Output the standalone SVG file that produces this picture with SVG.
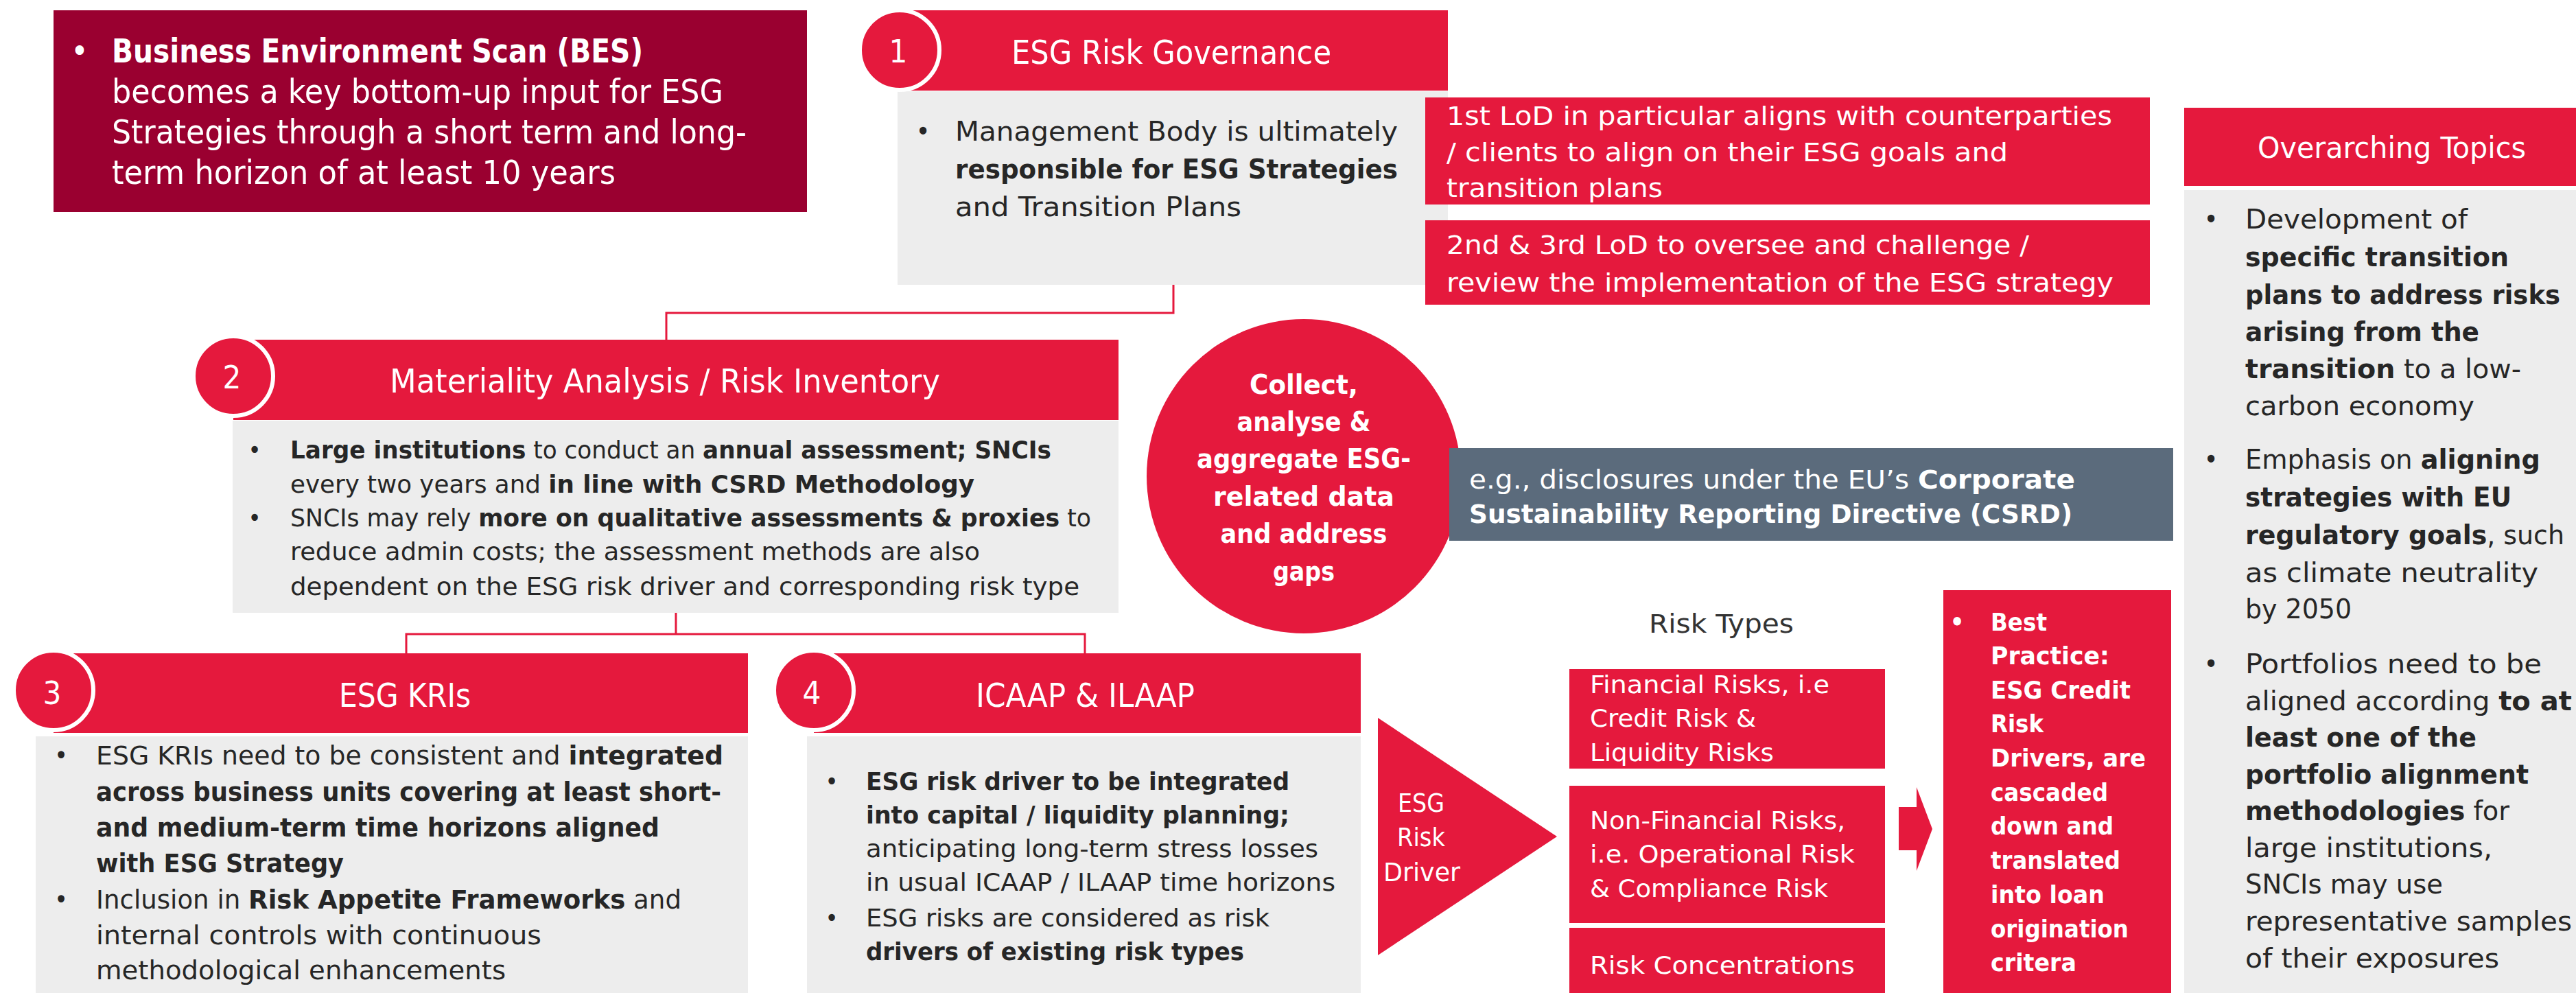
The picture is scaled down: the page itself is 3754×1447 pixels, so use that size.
<svg xmlns="http://www.w3.org/2000/svg" width="3754" height="1447" viewBox="0 0 3754 1447">
<style>
.red{fill:#E5193D}
.gray{fill:#EDEDED}
.bes{fill:#9A0030}
.slate{fill:#5B6B7C}
.num{fill:#E5193D;stroke:#fff;stroke-width:6}
.t{font-family:"DejaVu Sans Condensed","DejaVu Sans",sans-serif}
.w{fill:#fff}
.d{fill:#262626}
.b{font-weight:bold}
.c{text-anchor:middle}
.conn{fill:none;stroke:#E5193D;stroke-width:3}
</style>
<rect width="3754" height="1447" fill="#fff"/>

<g id="connectors">
<path class="conn" d="M1710 415 V456 H971 V495"/>
<path class="conn" d="M985 893 V924"/>
<path class="conn" d="M592 952 V924 H1581 V952"/>
</g>

<g id="bes">
<rect class="bes" x="78" y="15" width="1098" height="294"/>
<g class="t w" font-size="48">
<text x="116" y="91" class="c">•</text>
<text x="163" y="91" class="b" textLength="774" lengthAdjust="spacingAndGlyphs">Business Environment Scan (BES)</text>
<text x="163" y="150" textLength="891" lengthAdjust="spacingAndGlyphs">becomes a key bottom-up input for ESG</text>
<text x="163" y="209" textLength="925" lengthAdjust="spacingAndGlyphs">Strategies through a short term and long-</text>
<text x="163" y="268" textLength="734" lengthAdjust="spacingAndGlyphs">term horizon of at least 10 years</text>
</g>
</g>

<g id="node1">
<rect class="gray" x="1308" y="133" width="802" height="282"/>
<rect class="red" x="1311" y="15" width="799" height="117"/>
<circle class="num" cx="1311" cy="73" r="58"/>
<text x="1309" y="91" class="t w c" font-size="47">1</text>
<text x="1474" y="93" class="t w" font-size="48" textLength="466" lengthAdjust="spacingAndGlyphs">ESG Risk Governance</text>
<g class="t d" font-size="39">
<text x="1345" y="205" class="c">•</text>
<text x="1392" y="205" textLength="645" lengthAdjust="spacingAndGlyphs">Management Body is ultimately</text>
<text x="1392" y="260" class="b" textLength="645" lengthAdjust="spacingAndGlyphs">responsible for ESG Strategies</text>
<text x="1392" y="315" textLength="417" lengthAdjust="spacingAndGlyphs">and Transition Plans</text>
</g>
</g>

<g id="lod1">
<rect class="red" x="2077" y="142" width="1056" height="156"/>
<g class="t w" font-size="38">
<text x="2108" y="182" textLength="970" lengthAdjust="spacingAndGlyphs">1st LoD in particular aligns with counterparties</text>
<text x="2108" y="235" textLength="818" lengthAdjust="spacingAndGlyphs">/ clients to align on their ESG goals and</text>
<text x="2108" y="287" textLength="315" lengthAdjust="spacingAndGlyphs">transition plans</text>
</g>
</g>

<g id="lod23">
<rect class="red" x="2077" y="321" width="1056" height="123"/>
<g class="t w" font-size="38">
<text x="2108" y="370" textLength="849" lengthAdjust="spacingAndGlyphs">2nd &amp; 3rd LoD to oversee and challenge /</text>
<text x="2108" y="425" textLength="972" lengthAdjust="spacingAndGlyphs">review the implementation of the ESG strategy</text>
</g>
</g>

<g id="node2">
<rect class="gray" x="339" y="613" width="1291" height="280"/>
<rect class="red" x="340" y="495" width="1290" height="117"/>
<circle class="num" cx="340" cy="548" r="58"/>
<text x="338" y="566" class="t w c" font-size="47">2</text>
<text x="568" y="572" class="t w" font-size="48" textLength="802" lengthAdjust="spacingAndGlyphs">Materiality Analysis / Risk Inventory</text>
<g class="t d" font-size="36">
<text x="371" y="668" class="c">•</text>
<text x="423" y="668" textLength="1109" lengthAdjust="spacingAndGlyphs"><tspan class="b">Large institutions</tspan> to conduct an <tspan class="b">annual assessment; SNCIs</tspan></text>
<text x="423" y="718" textLength="997" lengthAdjust="spacingAndGlyphs">every two years and <tspan class="b">in line with CSRD Methodology</tspan></text>
<text x="371" y="767" class="c">•</text>
<text x="423" y="767" textLength="1167" lengthAdjust="spacingAndGlyphs">SNCIs may rely <tspan class="b">more on qualitative assessments &amp; proxies</tspan> to</text>
<text x="423" y="816" textLength="1005" lengthAdjust="spacingAndGlyphs">reduce admin costs; the assessment methods are also</text>
<text x="423" y="867" textLength="1150" lengthAdjust="spacingAndGlyphs">dependent on the ESG risk driver and corresponding risk type</text>
</g>
</g>

<g id="collect">
<circle class="red" cx="1900" cy="694" r="229"/>
<g class="t w b c" font-size="39">
<text x="1900" y="574" textLength="158" lengthAdjust="spacingAndGlyphs">Collect,</text>
<text x="1900" y="628" textLength="195" lengthAdjust="spacingAndGlyphs">analyse &amp;</text>
<text x="1900" y="682" textLength="312" lengthAdjust="spacingAndGlyphs">aggregate ESG-</text>
<text x="1900" y="737" textLength="264" lengthAdjust="spacingAndGlyphs">related data</text>
<text x="1900" y="791" textLength="243" lengthAdjust="spacingAndGlyphs">and address</text>
<text x="1900" y="846" textLength="90" lengthAdjust="spacingAndGlyphs">gaps</text>
</g>
</g>

<g id="csrd">
<rect class="slate" x="2112" y="653" width="1055" height="135"/>
<g class="t w" font-size="37">
<text x="2141" y="712" textLength="883" lengthAdjust="spacingAndGlyphs">e.g., disclosures under the EU’s <tspan class="b">Corporate</tspan></text>
<text x="2141" y="762" class="b" textLength="879" lengthAdjust="spacingAndGlyphs">Sustainability Reporting Directive (CSRD)</text>
</g>
</g>

<g id="node3">
<rect class="gray" x="52" y="1073" width="1038" height="374"/>
<rect class="red" x="78" y="952" width="1012" height="116"/>
<circle class="num" cx="78" cy="1006" r="58"/>
<text x="76" y="1026" class="t w c" font-size="47">3</text>
<text x="494" y="1030" class="t w" font-size="48" textLength="192" lengthAdjust="spacingAndGlyphs">ESG KRIs</text>
<g class="t d" font-size="37">
<text x="89" y="1114" class="c">•</text>
<text x="140" y="1114" textLength="914" lengthAdjust="spacingAndGlyphs">ESG KRIs need to be consistent and <tspan class="b">integrated</tspan></text>
<text x="140" y="1167" class="b" textLength="911" lengthAdjust="spacingAndGlyphs">across business units covering at least short-</text>
<text x="140" y="1219" class="b" textLength="821" lengthAdjust="spacingAndGlyphs">and medium-term time horizons aligned</text>
<text x="140" y="1271" class="b" textLength="361" lengthAdjust="spacingAndGlyphs">with ESG Strategy</text>
<text x="89" y="1324" class="c">•</text>
<text x="140" y="1324" textLength="853" lengthAdjust="spacingAndGlyphs">Inclusion in <tspan class="b">Risk Appetite Frameworks</tspan> and</text>
<text x="140" y="1376" textLength="649" lengthAdjust="spacingAndGlyphs">internal controls with continuous</text>
<text x="140" y="1427" textLength="597" lengthAdjust="spacingAndGlyphs">methodological enhancements</text>
</g>
</g>

<g id="node4">
<rect class="gray" x="1176" y="1073" width="807" height="374"/>
<rect class="red" x="1186" y="952" width="797" height="116"/>
<circle class="num" cx="1186" cy="1006" r="58"/>
<text x="1183" y="1026" class="t w c" font-size="47">4</text>
<text x="1422" y="1030" class="t w" font-size="48" textLength="319" lengthAdjust="spacingAndGlyphs">ICAAP &amp; ILAAP</text>
<g class="t d" font-size="36">
<text x="1212" y="1151" class="c">•</text>
<text x="1262" y="1151" class="b" textLength="617" lengthAdjust="spacingAndGlyphs">ESG risk driver to be integrated</text>
<text x="1262" y="1200" class="b" textLength="617" lengthAdjust="spacingAndGlyphs">into capital / liquidity planning;</text>
<text x="1262" y="1249" textLength="659" lengthAdjust="spacingAndGlyphs">anticipating long-term stress losses</text>
<text x="1262" y="1298" textLength="684" lengthAdjust="spacingAndGlyphs">in usual ICAAP / ILAAP time horizons</text>
<text x="1212" y="1350" class="c">•</text>
<text x="1262" y="1350" textLength="588" lengthAdjust="spacingAndGlyphs">ESG risks are considered as risk</text>
<text x="1262" y="1399" class="b" textLength="551" lengthAdjust="spacingAndGlyphs">drivers of existing risk types</text>
</g>
</g>

<g id="driver">
<polygon class="red" points="2008,1046 2269,1219 2008,1392"/>
<g class="t w c" font-size="38">
<text x="2071" y="1183" textLength="68" lengthAdjust="spacingAndGlyphs">ESG</text>
<text x="2071" y="1233" textLength="70" lengthAdjust="spacingAndGlyphs">Risk</text>
<text x="2072" y="1284" textLength="112" lengthAdjust="spacingAndGlyphs">Driver</text>
</g>
</g>

<g id="risktypes">
<text x="2403" y="922" class="t" fill="#333" font-size="37" textLength="211" lengthAdjust="spacingAndGlyphs">Risk Types</text>
</g>

<g id="financial">
<rect class="red" x="2287" y="975" width="460" height="145"/>
<g class="t w" font-size="36">
<text x="2317" y="1010" textLength="349" lengthAdjust="spacingAndGlyphs">Financial Risks, i.e</text>
<text x="2317" y="1059" textLength="242" lengthAdjust="spacingAndGlyphs">Credit Risk &amp;</text>
<text x="2317" y="1109" textLength="268" lengthAdjust="spacingAndGlyphs">Liquidity Risks</text>
</g>
</g>

<g id="nonfinancial">
<rect class="red" x="2287" y="1145" width="460" height="200"/>
<g class="t w" font-size="36">
<text x="2317" y="1208" textLength="372" lengthAdjust="spacingAndGlyphs">Non-Financial Risks,</text>
<text x="2317" y="1257" textLength="386" lengthAdjust="spacingAndGlyphs">i.e. Operational Risk</text>
<text x="2317" y="1307" textLength="347" lengthAdjust="spacingAndGlyphs">&amp; Compliance Risk</text>
</g>
</g>

<g id="concentrations">
<rect class="red" x="2287" y="1352" width="460" height="95"/>
<text x="2317" y="1419" class="t w" font-size="36" textLength="386" lengthAdjust="spacingAndGlyphs">Risk Concentrations</text>
</g>

<g id="arrow">
<polygon class="red" points="2767,1176 2793,1176 2793,1147 2816,1208 2793,1269 2793,1239 2767,1239"/>
</g>

<g id="bestpractice">
<rect class="red" x="2832" y="860" width="332" height="587"/>
<g class="t w b" font-size="36">
<text x="2852" y="919" class="c">•</text>
<text x="2901" y="919" textLength="82" lengthAdjust="spacingAndGlyphs">Best</text>
<text x="2901" y="968" textLength="173" lengthAdjust="spacingAndGlyphs">Practice:</text>
<text x="2901" y="1018" textLength="204" lengthAdjust="spacingAndGlyphs">ESG Credit</text>
<text x="2901" y="1067" textLength="77" lengthAdjust="spacingAndGlyphs">Risk</text>
<text x="2901" y="1117" textLength="226" lengthAdjust="spacingAndGlyphs">Drivers, are</text>
<text x="2901" y="1167" textLength="171" lengthAdjust="spacingAndGlyphs">cascaded</text>
<text x="2901" y="1216" textLength="179" lengthAdjust="spacingAndGlyphs">down and</text>
<text x="2901" y="1266" textLength="189" lengthAdjust="spacingAndGlyphs">translated</text>
<text x="2901" y="1316" textLength="166" lengthAdjust="spacingAndGlyphs">into loan</text>
<text x="2901" y="1366" textLength="201" lengthAdjust="spacingAndGlyphs">origination</text>
<text x="2901" y="1415" textLength="125" lengthAdjust="spacingAndGlyphs">critera</text>
</g>
</g>

<g id="overarching">
<rect class="red" x="3183" y="157" width="571" height="114"/>
<rect class="gray" x="3183" y="277" width="571" height="1170"/>
<text x="3290" y="230" class="t w" font-size="43" textLength="391" lengthAdjust="spacingAndGlyphs">Overarching Topics</text>
<g class="t d" font-size="39">
<text x="3222" y="333" class="c">•</text>
<text x="3272" y="333" textLength="324" lengthAdjust="spacingAndGlyphs">Development of</text>
<text x="3272" y="388" class="b" textLength="384" lengthAdjust="spacingAndGlyphs">specific transition</text>
<text x="3272" y="443" class="b" textLength="459" lengthAdjust="spacingAndGlyphs">plans to address risks</text>
<text x="3272" y="497" class="b" textLength="341" lengthAdjust="spacingAndGlyphs">arising from the</text>
<text x="3272" y="551" textLength="402" lengthAdjust="spacingAndGlyphs"><tspan class="b">transition</tspan> to a low-</text>
<text x="3272" y="605" textLength="334" lengthAdjust="spacingAndGlyphs">carbon economy</text>
<text x="3222" y="683" class="c">•</text>
<text x="3272" y="683" textLength="430" lengthAdjust="spacingAndGlyphs">Emphasis on <tspan class="b">aligning</tspan></text>
<text x="3272" y="738" class="b" textLength="388" lengthAdjust="spacingAndGlyphs">strategies with EU</text>
<text x="3272" y="793" textLength="465" lengthAdjust="spacingAndGlyphs"><tspan class="b">regulatory goals</tspan>, such</text>
<text x="3272" y="848" textLength="427" lengthAdjust="spacingAndGlyphs">as climate neutrality</text>
<text x="3272" y="901" textLength="155" lengthAdjust="spacingAndGlyphs">by 2050</text>
<text x="3222" y="981" class="c">•</text>
<text x="3272" y="981" textLength="432" lengthAdjust="spacingAndGlyphs">Portfolios need to be</text>
<text x="3272" y="1035" textLength="476" lengthAdjust="spacingAndGlyphs">aligned according <tspan class="b">to at</tspan></text>
<text x="3272" y="1088" class="b" textLength="337" lengthAdjust="spacingAndGlyphs">least one of the</text>
<text x="3272" y="1142" class="b" textLength="413" lengthAdjust="spacingAndGlyphs">portfolio alignment</text>
<text x="3272" y="1195" textLength="385" lengthAdjust="spacingAndGlyphs"><tspan class="b">methodologies</tspan> for</text>
<text x="3272" y="1249" textLength="360" lengthAdjust="spacingAndGlyphs">large institutions,</text>
<text x="3272" y="1302" textLength="288" lengthAdjust="spacingAndGlyphs">SNCIs may use</text>
<text x="3272" y="1356" textLength="476" lengthAdjust="spacingAndGlyphs">representative samples</text>
<text x="3272" y="1410" textLength="370" lengthAdjust="spacingAndGlyphs">of their exposures</text>
</g>
</g>
</svg>
